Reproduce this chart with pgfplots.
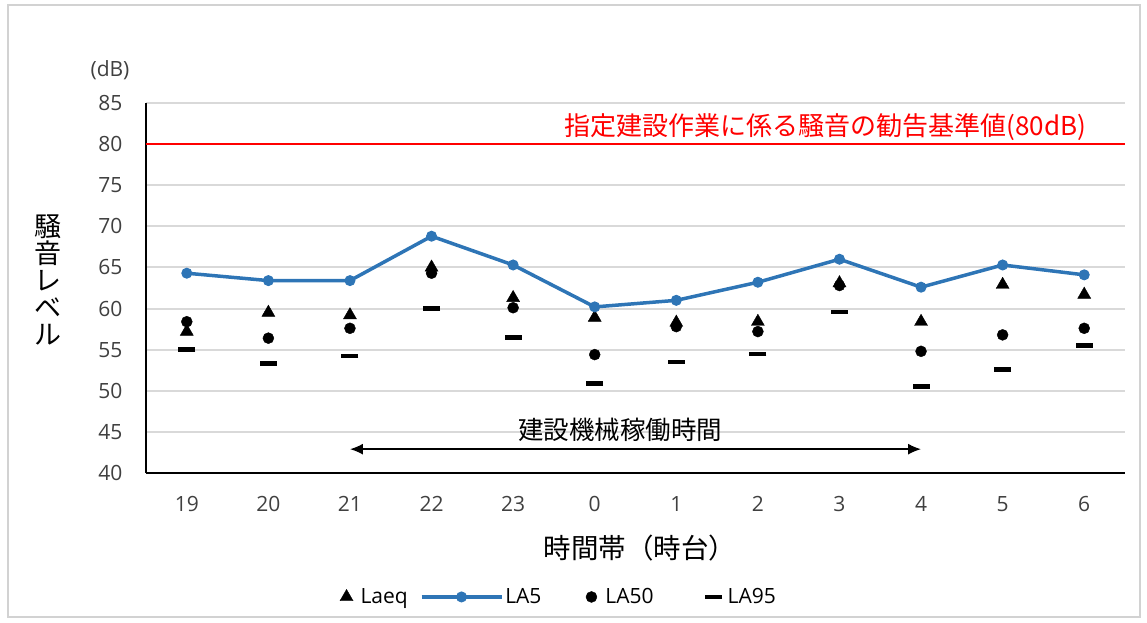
\documentclass[border=0pt]{standalone}
\usepackage{pgfplots}
\pgfplotsset{compat=1.18}
\usepackage{fontspec}
\setmainfont{Open Sans}
\newfontfamily\jp{Noto Sans CJK JP}
\usetikzlibrary{arrows.meta}
\definecolor{lablue}{RGB}{46,117,182}
\definecolor{gridgray}{RGB}{217,217,217}
\definecolor{ticktext}{RGB}{64,64,64}
\definecolor{framegray}{RGB}{210,210,210}

\pgfplotsset{
  la5legend/.style={legend image code/.code={\draw[mark repeat=2,mark phase=2,##1] plot coordinates {(0pt,0pt)(40pt,0pt)(80pt,0pt)};}},
  marklegend/.style={legend image code/.code={\path[draw=none,fill=none] (-12pt,0pt) -- (12pt,0pt); \draw[##1] plot coordinates {(0pt,0pt)};}}
}

\pgfplotstableread{
x Laeq LA5 LA50 LA95
0 57.2 64.3 58.4 55.0
1 59.5 63.4 56.4 53.3
2 59.2 63.4 57.6 54.2
3 65.0 68.8 64.3 60.0
4 61.3 65.3 60.1 56.5
5 58.9 60.2 54.4 50.9
6 58.3 61.0 57.8 53.5
7 58.4 63.2 57.2 54.5
8 63.1 66.0 62.8 59.6
9 58.4 62.6 54.8 50.5
10 62.9 65.3 56.8 52.6
11 61.7 64.1 57.6 55.5
}\datatable

\begin{document}
\begin{tikzpicture}
\useasboundingbox (0,0) rectangle (1147pt,622pt);
\draw[framegray, line width=1.5pt] (8pt,5pt) rectangle (1140pt,617pt);
\begin{axis}[
  at={(146pt,149pt)}, anchor=south west,
  scale only axis, width=979pt, height=370pt,
  xmin=-0.5, xmax=11.5, ymin=40, ymax=85,
  xtick={0,...,11}, xticklabels={19,20,21,22,23,0,1,2,3,4,5,6},
  ytick={40,45,...,85},
  axis x line*=bottom, axis y line*=left,
  axis line style={line width=2pt, -},
  major tick length=0pt,
  ymajorgrids, grid style={gridgray, line width=2pt},
  tick label style={font=\fontsize{21}{24}\selectfont, text=ticktext},
  /pgf/number format/assume math mode=true,
  xticklabel style={yshift=-20pt},
  yticklabel style={xshift=-20pt},
  legend columns=4,
  legend style={at={(axis description cs:0.419,-0.335)}, anchor=center, draw=none,
    font=\fontsize{21}{24}\selectfont, text=black,
    /tikz/column 2/.append style={column sep=10pt},
    /tikz/column 4/.append style={column sep=36pt},
    /tikz/column 6/.append style={column sep=46pt}},
  legend cell align=left,
  clip=false,
]
\addplot[forget plot, red, line width=2.5pt] coordinates {(-0.5,80) (11.5,80)};
\addplot[only marks, mark=triangle*, mark size=7.5pt, black, marklegend] table[x=x, y=Laeq] {\datatable};
\addlegendentry{Laeq}
\addplot[lablue, line width=3.5pt, mark=*, mark size=5pt, mark options={solid, fill=lablue, line width=1pt}, la5legend]
  table[x=x, y=LA5] {\datatable};
\addlegendentry{LA5}
\addplot[only marks, mark=*, mark size=5.5pt, black, marklegend] table[x=x, y=LA50] {\datatable};
\addlegendentry{LA50}
\addplot[only marks, mark=-, mark size=8.5pt, mark options={line width=4.5pt}, black, marklegend] table[x=x, y=LA95] {\datatable};
\addlegendentry{LA95}
\draw[{Latex[length=13pt,width=11pt]}-{Latex[length=13pt,width=11pt]}, line width=1.5pt] (axis cs:2,42.9) -- (axis cs:9,42.9);
\node[font=\jp\fontsize{25.5}{28}\selectfont] at (axis cs:5.31,45.2) {建設機械稼働時間};
\node[font=\jp\fontsize{26}{28}\selectfont, text=red] at (axis cs:7.83,82.1) {指定建設作業に係る騒音の勧告基準値(80dB)};
\end{axis}
\node[font=\fontsize{21}{24}\selectfont, text=ticktext] at (110pt,552pt) {(dB)};
\node[font=\jp\fontsize{27}{27}\selectfont, align=center] at (48pt,342pt) {騒\\音\\レ\\ベ\\ル};
\node[font=\jp\fontsize{27.5}{30}\selectfont] at (640pt,74pt) {時間帯（時台）};
\end{tikzpicture}
\end{document}
